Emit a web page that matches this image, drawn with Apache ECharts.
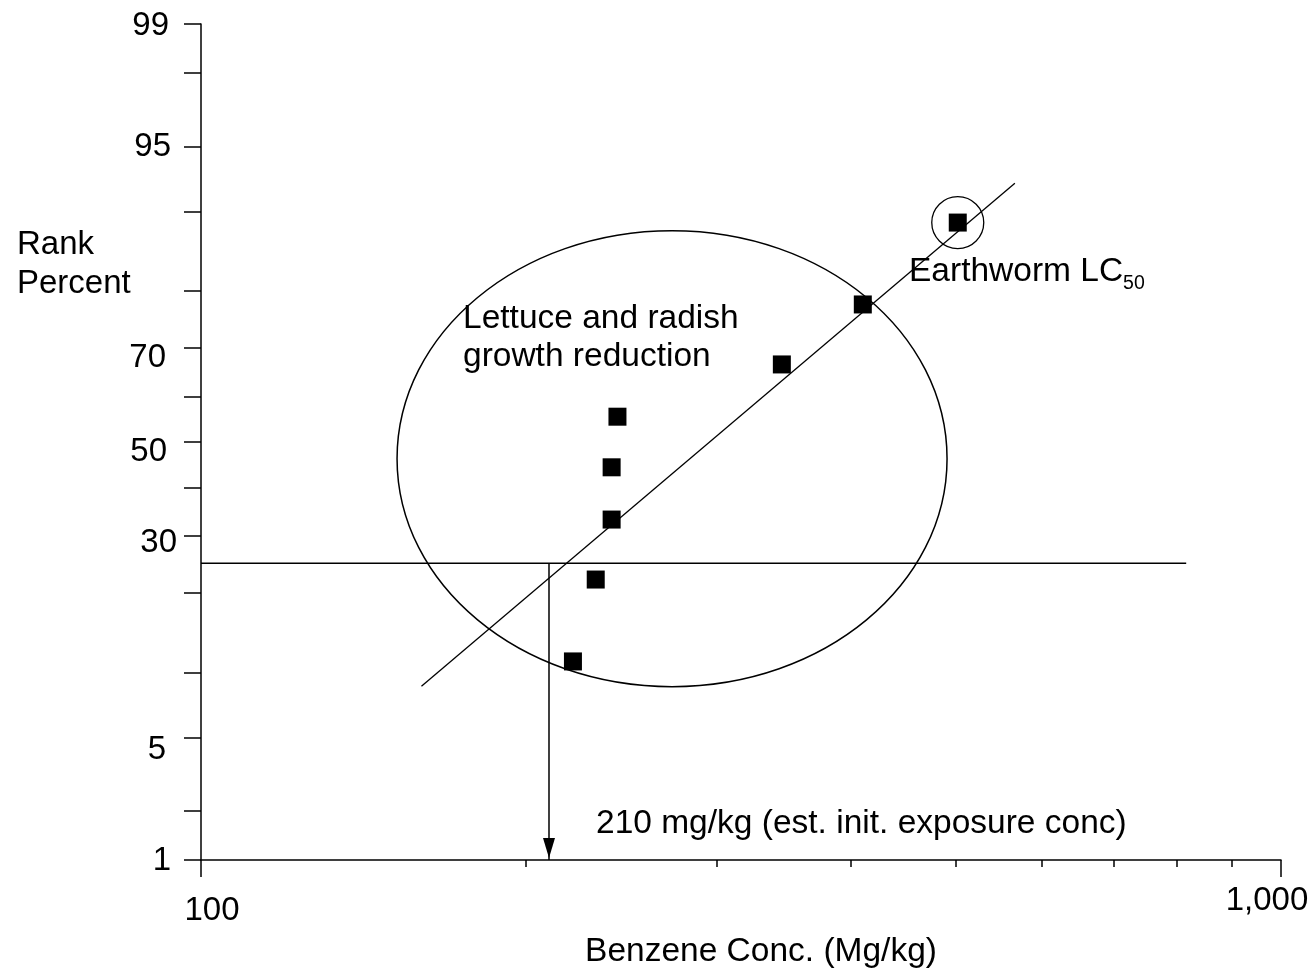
<!DOCTYPE html>
<html>
<head>
<meta charset="utf-8">
<title>Benzene Conc. rank plot</title>
<script src="https://cdn.jsdelivr.net/npm/echarts@6/dist/echarts.min.js"></script>
<style>
  html, body { margin: 0; padding: 0; background: #fff; }
  #chart { width: 1315px; height: 974px; }
</style>
</head>
<body>
<div id="chart"></div>
<script>
// Toxicity endpoints for benzene (mg/kg) and their rank percent i/(n+1)
const concentrations = [221, 232, 240, 240, 243, 345, 410, 502];
const rankPercents = [11.1, 22.2, 33.3, 44.4, 55.6, 66.7, 77.8, 88.9];

// Probability-axis ticks and labels (percent)
const yTickPercents = [1, 2, 5, 10, 20, 30, 40, 50, 60, 70, 80, 90, 95, 98, 99];
const yLabelPercents = [1, 5, 30, 50, 70, 95, 99];

// Log-axis ticks (mg/kg)
const xMajorTicks = [100, 1000];
const xMinorTicks = [200, 300, 400, 500, 600, 700, 800, 900];
const xLabelLow = [100];
const xLabelHigh = [1000];

// Fitted line end points [conc, percent]
const fitLine = [[160, 8.7], [567, 92.5]];
// 25th-percentile reading line and the estimated exposure concentration
const thresholdPercent = 25;
const thresholdSpan = [100, 817];
const exposureConc = 210;
// Centre of the grouping ellipse [conc, percent]
const groupCenter = [273, 46.3];

// Inverse standard normal CDF (Acklam)
function probit(p) {
  const a = [-3.969683028665376e+01, 2.209460984245205e+02, -2.759285104469687e+02,
             1.383577518672690e+02, -3.066479806614716e+01, 2.506628277459239e+00];
  const b = [-5.447609879822406e+01, 1.615858368580409e+02, -1.556989798598866e+02,
             6.680131188771972e+01, -1.328068155288572e+01];
  const c = [-7.784894002430293e-03, -3.223964580411365e-01, -2.400758277161838e+00,
             -2.549732539343734e+00, 4.374664141464968e+00, 2.938163982698783e+00];
  const d = [7.784695709041462e-03, 3.224671290700398e-01, 2.445134137142996e+00,
             3.754408661907416e+00];
  const pl = 0.02425, ph = 1 - pl;
  let q, r;
  if (p < pl) {
    q = Math.sqrt(-2 * Math.log(p));
    return (((((c[0]*q+c[1])*q+c[2])*q+c[3])*q+c[4])*q+c[5]) / ((((d[0]*q+d[1])*q+d[2])*q+d[3])*q+1);
  }
  if (p <= ph) {
    q = p - 0.5; r = q * q;
    return (((((a[0]*r+a[1])*r+a[2])*r+a[3])*r+a[4])*r+a[5])*q / (((((b[0]*r+b[1])*r+b[2])*r+b[3])*r+b[4])*r+1);
  }
  q = Math.sqrt(-2 * Math.log(1 - p));
  return -(((((c[0]*q+c[1])*q+c[2])*q+c[3])*q+c[4])*q+c[5]) / ((((d[0]*q+d[1])*q+d[2])*q+d[3])*q+1);
}
const pz = pct => probit(pct / 100);
const lx = v => Math.log10(v);
const pt = (conc, pct) => [lx(conc), pz(pct)];

const FONT = '"Liberation Sans", Arial, Helvetica, sans-serif';
const INK = '#000';
const LABEL_SIZE = 33;
const NOTE_SIZE = 33.5;

// Per-label nudges for the percent labels: [down, left] in px
const yLabelNudge = { 1: [2, 6], 5: [24, 11], 30: [14, 0], 50: [20, 10], 70: [20, 11], 95: [0, 6], 99: [4, 8] };
const yRich = {};
yLabelPercents.forEach(p => {
  const n = yLabelNudge[p];
  yRich['p' + p] = { fontSize: LABEL_SIZE, fontFamily: FONT, color: INK, padding: [n[0], n[1], 0, 0] };
});

function nearestPercent(z) {
  let best = yLabelPercents[0], bd = Infinity;
  yLabelPercents.forEach(p => { const dd = Math.abs(pz(p) - z); if (dd < bd) { bd = dd; best = p; } });
  return '{p' + best + '|' + best + '}';
}
function concLabel(v) {
  return Math.round(Math.pow(10, v)).toLocaleString('en-US');
}

const chart = echarts.init(document.getElementById('chart'), null, { renderer: 'canvas' });

const xBase = {
  type: 'value', position: 'bottom', gridIndex: 0,
  min: lx(100), max: lx(1000),
  splitLine: { show: false }
};

const option = {
  animation: false,
  backgroundColor: '#fff',
  grid: { left: 201, right: 34, top: 24, bottom: 114 },
  xAxis: [
    Object.assign({}, xBase, {
      axisLine: { show: true, onZero: false, lineStyle: { color: INK, width: 1.5 } },
      axisTick: { show: true, length: 17, lineStyle: { color: INK, width: 1.5 },
                  customValues: xMajorTicks.map(lx) },
      axisLabel: { show: true, customValues: xLabelLow.map(lx), formatter: concLabel,
                   margin: 34, padding: [0, 0, 0, 22],
                   color: INK, fontSize: LABEL_SIZE, fontFamily: FONT },
      name: 'Benzene Conc. (Mg/kg)',
      nameLocation: 'middle', nameGap: 75,
      nameTextStyle: { color: INK, fontSize: NOTE_SIZE, fontFamily: FONT, padding: [0, 0, 0, 40] }
    }),
    Object.assign({}, xBase, {
      axisLine: { show: false, onZero: false },
      axisTick: { show: true, length: 7, lineStyle: { color: INK, width: 1.5 },
                  customValues: xMinorTicks.map(lx) },
      axisLabel: { show: true, customValues: xLabelHigh.map(lx), formatter: concLabel,
                   margin: 24, padding: [0, 28, 0, 0],
                   color: INK, fontSize: LABEL_SIZE, fontFamily: FONT }
    })
  ],
  yAxis: {
    type: 'value',
    min: pz(1), max: pz(99),
    splitLine: { show: false },
    axisLine: { show: true, onZero: false, lineStyle: { color: INK, width: 1.5 } },
    axisTick: { show: true, length: 17, lineStyle: { color: INK, width: 1.5 },
                customValues: yTickPercents.map(pz) },
    axisLabel: { show: true, customValues: yLabelPercents.map(pz), formatter: nearestPercent,
                 margin: 24, color: INK, fontSize: LABEL_SIZE, fontFamily: FONT, rich: yRich }
  },
  series: [
    {
      name: 'Endpoints',
      type: 'scatter',
      symbol: 'rect',
      symbolSize: 18,
      itemStyle: { color: INK, opacity: 1 },
      z: 5,
      data: concentrations.map((c, i) => pt(c, rankPercents[i]))
    },
    {
      name: 'Fit',
      type: 'line',
      showSymbol: false, symbol: 'none',
      lineStyle: { color: INK, width: 1.3 },
      data: fitLine.map(d => pt(d[0], d[1]))
    },
    {
      name: 'Threshold',
      type: 'line',
      showSymbol: false, symbol: 'none',
      lineStyle: { color: INK, width: 1.5 },
      data: thresholdSpan.map(c => pt(c, thresholdPercent))
    },
    {
      name: 'Exposure',
      type: 'line',
      showSymbol: true,
      lineStyle: { color: INK, width: 1.5 },
      itemStyle: { color: INK, opacity: 1 },
      data: [
        { value: pt(exposureConc, thresholdPercent), symbol: 'none' },
        { value: pt(exposureConc, yTickPercents[0]), symbol: 'path://M0,0L12,0L6,20Z',
          symbolSize: [12, 20], symbolOffset: [0, -12] }
      ]
    }
  ]
};
chart.setOption(option);

// Outline the plant-growth group and circle the earthworm endpoint
const c0 = chart.convertToPixel({ seriesIndex: 0 }, pt(groupCenter[0], groupCenter[1]));
const last = concentrations.length - 1;
const c1 = chart.convertToPixel({ seriesIndex: 0 }, pt(concentrations[last], rankPercents[last]));

chart.setOption({
  graphic: [
    { type: 'ellipse', shape: { cx: c0[0], cy: c0[1], rx: 275, ry: 228 },
      style: { fill: 'none', stroke: INK, lineWidth: 1.5 }, z: 10 },
    { type: 'circle', shape: { cx: c1[0], cy: c1[1], r: 26 },
      style: { fill: 'none', stroke: INK, lineWidth: 1.3 }, z: 10 },
    { type: 'text', x: 17, y: 225, z: 10,
      style: { text: 'Rank\nPercent', fill: INK, fontSize: LABEL_SIZE, fontFamily: FONT,
               lineHeight: 39, verticalAlign: 'top', align: 'left' } },
    { type: 'text', x: 463, y: 300, z: 10,
      style: { text: 'Lettuce and radish\ngrowth reduction', fill: INK, fontSize: NOTE_SIZE, fontFamily: FONT,
               lineHeight: 38, verticalAlign: 'top', align: 'left' } },
    { type: 'text', x: 909, y: 255, z: 10,
      style: { text: '{a|Earthworm LC}{s|50}', fill: INK, fontFamily: FONT, verticalAlign: 'top', align: 'left',
               rich: {
                 a: { fontSize: NOTE_SIZE, fontFamily: FONT, lineHeight: 33, verticalAlign: 'top', fill: INK },
                 s: { fontSize: 19.5, fontFamily: FONT, lineHeight: 19, padding: [19, 0, 0, 0], verticalAlign: 'top', fill: INK }
               } } },
    { type: 'text', x: 596, y: 824, z: 10,
      style: { text: '210 mg/kg (est. init. exposure conc)', fill: INK, fontSize: NOTE_SIZE, fontFamily: FONT,
               verticalAlign: 'middle', align: 'left' } }
  ]
});
</script>
</body>
</html>
